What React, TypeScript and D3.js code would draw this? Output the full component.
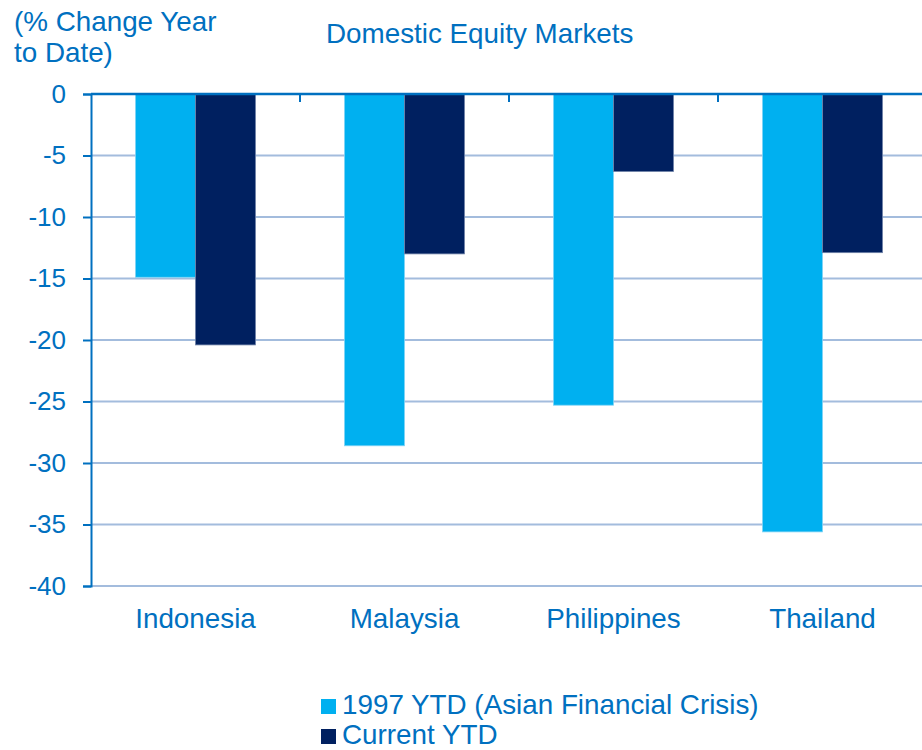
import React, { useRef, useEffect } from "react";
import * as d3 from "d3";

const categories = ["Indonesia", "Malaysia", "Philippines", "Thailand"];
const seriesNames = ["1997 YTD (Asian Financial Crisis)", "Current YTD"];
const crisis1997 = [-14.9, -28.6, -25.3, -35.6];
const currentYtd = [-20.4, -13.0, -6.3, -12.9];
const yTicks = [0, -5, -10, -15, -20, -25, -30, -35, -40];

const colors = ["#00B0F0", "#002060"];
const textColor = "#0070C0";
const gridColor = "#A3BCDD";
const font = "'Liberation Sans', Arial, sans-serif";

const App = () => {
  const svgRef = useRef<SVGSVGElement>(null);

  useEffect(() => {
    const w = 922;
    const h = 750;
    const margin = { top: 94, right: -5, bottom: 164, left: 91 };
    const svg = d3.select(svgRef.current).attr("width", w).attr("height", h);
    svg.selectAll("*").remove();

    const values = [crisis1997, currentYtd];

    const x0 = d3
      .scaleBand()
      .domain(categories)
      .range([margin.left, w - margin.right])
      .padding(0);
    const bw = x0.bandwidth();
    const x1 = d3
      .scaleBand()
      .domain(seriesNames)
      .range([bw / 2 - 60, bw / 2 + 60])
      .padding(0);

    const y = d3
      .scaleLinear()
      .domain([0, -40])
      .range([margin.top, h - margin.bottom]);

    // gridlines
    svg
      .append("g")
      .selectAll("line")
      .data(yTicks.filter((t) => t !== 0))
      .enter()
      .append("line")
      .attr("x1", margin.left)
      .attr("x2", w)
      .attr("y1", (d) => y(d))
      .attr("y2", (d) => y(d))
      .attr("stroke", gridColor)
      .attr("stroke-width", 2);

    // bars
    const groups = svg
      .append("g")
      .selectAll("g")
      .data(categories)
      .enter()
      .append("g")
      .attr("transform", (d) => `translate(${x0(d)},0)`);

    seriesNames.forEach((s, si) => {
      groups
        .append("rect")
        .attr("x", x1(s) as number)
        .attr("y", y(0))
        .attr("width", x1.bandwidth())
        .attr("height", (_d, i) => y(values[si][i]) - y(0))
        .attr("fill", colors[si])
        .attr("stroke", si === 1 ? "#6F82A8" : "#7FD4F5")
        .attr("stroke-width", 0.8);
    });

    // y axis
    const yAxis = d3
      .axisLeft(y)
      .tickValues(yTicks)
      .tickSize(8)
      .tickPadding(17)
      .tickFormat((d) => `${d}`);
    const gy = svg
      .append("g")
      .attr("transform", `translate(${margin.left},0)`)
      .call(yAxis);
    gy.select(".domain").attr("stroke", textColor).attr("stroke-width", 2);
    gy.selectAll(".tick line").attr("stroke", textColor).attr("stroke-width", 2);
    gy.selectAll(".tick text")
      .attr("fill", textColor)
      .attr("font-size", "26px")
      .attr("font-family", font);

    // zero line with category ticks
    svg
      .append("line")
      .attr("x1", margin.left)
      .attr("x2", w)
      .attr("y1", y(0))
      .attr("y2", y(0))
      .attr("stroke", textColor)
      .attr("stroke-width", 2.5);
    svg
      .append("g")
      .selectAll("line")
      .data(categories.slice(1))
      .enter()
      .append("line")
      .attr("x1", (d) => x0(d) as number)
      .attr("x2", (d) => x0(d) as number)
      .attr("y1", y(0))
      .attr("y2", y(0) + 8)
      .attr("stroke", textColor)
      .attr("stroke-width", 2);

    // category labels
    svg
      .append("g")
      .selectAll("text")
      .data(categories)
      .enter()
      .append("text")
      .attr("x", (d) => (x0(d) as number) + bw / 2)
      .attr("y", 628)
      .attr("text-anchor", "middle")
      .attr("fill", textColor)
      .attr("font-size", "27.8px")
      .attr("font-family", font)
      .text((d) => d);

    // titles
    const t = svg
      .append("text")
      .attr("fill", textColor)
      .attr("font-size", "27.8px")
      .attr("font-family", font);
    t.append("tspan").attr("x", 14).attr("y", 31).text("(% Change Year");
    t.append("tspan").attr("x", 14).attr("y", 62).text("to Date)");

    svg
      .append("text")
      .attr("x", 326)
      .attr("y", 43)
      .attr("fill", textColor)
      .attr("font-size", "27.8px")
      .attr("font-family", font)
      .text("Domestic Equity Markets");

    // legend
    const lg = svg
      .append("g")
      .selectAll("g")
      .data(seriesNames)
      .enter()
      .append("g")
      .attr("transform", (_d, i) => `translate(321,${699 + i * 30})`);
    lg.append("rect")
      .attr("width", 15)
      .attr("height", 15)
      .attr("fill", (_d, i) => colors[i]);
    lg.append("text")
      .attr("x", 21)
      .attr("y", 15)
      .attr("fill", textColor)
      .attr("font-size", "27.8px")
      .attr("font-family", font)
      .text((d) => d);
  }, []);

  return <svg ref={svgRef} style={{ position: "absolute", left: 0, top: 0 }}></svg>;
};

export default App;
